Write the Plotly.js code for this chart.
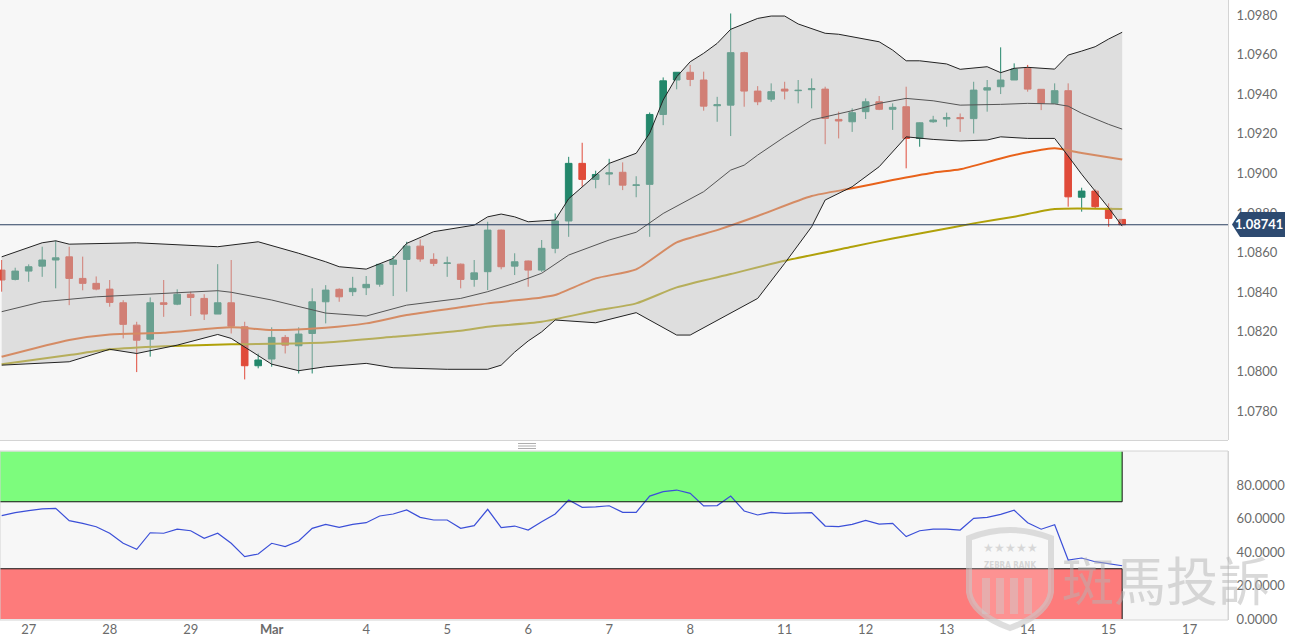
<!DOCTYPE html>
<html>
<head>
<meta charset="utf-8">
<script src="https://cdn.plot.ly/plotly-3.0.1.min.js"></script>
<style>
  html, body { margin: 0; padding: 0; background: #fff; }
  #chart { width: 1289px; height: 641px; }
</style>
</head>
<body>
<div id="chart"></div>
<script>
/* EUR/USD 4H: velas + Bollinger + 2 medias, panel RSI abajo */

const OPEN = [1.08512,1.08465,1.08507,1.08532,1.08563,1.08579,1.0847,1.08445,1.08416,1.08347,
  1.08234,1.08163,1.08347,1.0834,1.0839,1.08369,1.0829,1.08347,1.08226,1.08029,
  1.08063,1.08172,1.0813,1.08192,1.08352,1.08415,1.08403,1.08423,1.08441,1.08541,
  1.08566,1.08633,1.08566,1.08546,1.08542,1.08465,1.08504,1.08714,1.08532,1.08558,
  1.08512,1.08622,1.0876,1.09051,1.0897,1.08997,1.09006,1.0894,1.08945,1.09298,
  1.09472,1.09511,1.09472,1.09342,1.09345,1.0961,1.09416,1.09375,1.09426,1.09418,
  1.09423,1.09426,1.09273,1.09261,1.09312,1.09362,1.09324,1.09337,1.09177,1.09261,
  1.09275,1.09282,1.09277,1.09421,1.09438,1.09472,1.09531,1.09425,1.09354,1.09418,
  1.0888,1.08911,1.08824,1.08768];
const HIGH = [1.08563,1.08524,1.08541,1.0863,1.0866,1.0863,1.0858,1.0848,1.08462,1.0836,
  1.08251,1.08374,1.08462,1.08415,1.08403,1.0839,1.08542,1.08563,1.08251,1.08091,
  1.08223,1.08184,1.08223,1.0842,1.08436,1.0842,1.08478,1.08482,1.08541,1.08583,
  1.08655,1.08667,1.08597,1.0858,1.08545,1.08563,1.08756,1.08716,1.08597,1.0856,
  1.08664,1.08798,1.09084,1.09155,1.09014,1.09074,1.09056,1.08986,1.09308,1.09485,
  1.09511,1.09548,1.09514,1.09387,1.09808,1.09615,1.09441,1.09455,1.09463,1.09472,
  1.0948,1.09438,1.09312,1.09329,1.09379,1.09391,1.09354,1.09438,1.09258,1.09291,
  1.09307,1.09303,1.09463,1.09472,1.09637,1.09556,1.09548,1.09425,1.09455,1.09455,
  1.08928,1.0892,1.08849,1.08768];
const LOW = [1.08403,1.0846,1.08453,1.08478,1.0842,1.08335,1.0841,1.0841,1.08327,1.08167,
  1.07997,1.08075,1.08276,1.08335,1.0828,1.0826,1.0829,1.08192,1.0796,1.08016,
  1.08024,1.08091,1.0799,1.0799,1.08243,1.08352,1.08381,1.08386,1.08428,1.08381,
  1.08403,1.08554,1.08532,1.08478,1.0842,1.08428,1.08411,1.08516,1.08487,1.08428,
  1.08503,1.08597,1.0868,1.08933,1.08925,1.08941,1.08916,1.0888,1.0868,1.09244,
  1.09425,1.09441,1.09317,1.09261,1.09189,1.09337,1.09345,1.09362,1.09374,1.09354,
  1.09329,1.09148,1.09177,1.0921,1.09275,1.0932,1.0922,1.09026,1.09135,1.09256,
  1.09236,1.0921,1.09202,1.09312,1.09401,1.09472,1.09413,1.0932,1.09354,1.08832,
  1.08807,1.08825,1.08731,1.08741];
const CLOSE = [1.08462,1.08507,1.08529,1.08563,1.08574,1.0847,1.08445,1.08416,1.08349,1.08238,
  1.08158,1.08347,1.08339,1.0839,1.08374,1.0829,1.08347,1.08229,1.08029,1.08058,
  1.08172,1.08133,1.08189,1.08352,1.08411,1.08377,1.0842,1.0844,1.08541,1.08563,
  1.08633,1.08568,1.08546,1.08548,1.08465,1.08498,1.08714,1.08529,1.08554,1.08512,
  1.08622,1.0876,1.09051,1.0897,1.08995,1.09003,1.08941,1.08942,1.09298,1.09468,
  1.09511,1.09475,1.0934,1.09347,1.0961,1.09416,1.09362,1.09413,1.09416,1.0942,
  1.09428,1.09278,1.09265,1.09307,1.09362,1.09324,1.09334,1.09177,1.09256,1.0927,
  1.09282,1.09277,1.09421,1.09433,1.09472,1.09527,1.09426,1.09354,1.09418,1.08882,
  1.08911,1.08832,1.08773,1.08741];

const RSI = [61.7,63.5,64.7,65.7,66.1,58.7,57.1,55.1,51.2,45.2,
  41.6,51.5,51.2,53.6,52.7,48.2,51.2,45.2,37.2,38.8,
  45.2,43.2,46.6,54.1,56.5,54.7,56.5,57.5,61.5,62.7,
  65.1,60.7,59.1,59.1,54.1,55.7,65.5,54.5,55.5,53.1,
  58.1,62.7,71.0,66.7,67.0,67.6,63.7,63.7,73.4,76.0,
  77.0,75.0,67.5,67.7,73.4,64.5,62.1,63.7,63.1,63.5,
  63.5,55.5,55.1,56.5,58.9,56.7,57.1,49.2,52.7,53.6,
  53.7,53.1,60.1,60.7,62.5,64.9,57.5,53.6,56.3,35.2,
  36.4,34.2,32.8,31.8];

// Bollinger: banda superior / media / inferior (leidas a ojo, indice de vela)
const BB_UP_X = [0,3,4,5,10,16,19,22,24,25,27,29,30,32,35,36,37,38,39,40,41,42,44,45,47,48,49,50,51,52,53,54,56,57,58,59,61,62,65,66,67,68,70,71,73,74,75,76,78,79,80,81,82,83];
const BB_UP = [1.08579,1.0865,1.0866,1.08643,1.0865,1.0863,1.08655,1.08597,1.08554,1.08529,1.08517,1.08571,1.08647,1.08706,1.08739,1.08781,1.08795,1.08781,1.08756,1.08762,1.08765,1.08872,1.08992,1.09051,1.09102,1.09203,1.09371,1.09488,1.09564,1.09607,1.09657,1.09728,1.09783,1.09795,1.09795,1.09755,1.09708,1.09703,1.09665,1.09623,1.09569,1.09569,1.09553,1.09526,1.09539,1.09509,1.09531,1.09536,1.09527,1.09598,1.09618,1.0964,1.09679,1.09713];
const BB_MID_X = [0,3,7,12,16,17,20,24,27,30,34,36,38,40,42,45,47,49,52,54,55,56,58,60,63,65,67,69,71,74,76,78,79,80,81,82,83];
const BB_MID = [1.08302,1.08352,1.08377,1.08394,1.08408,1.084,1.08361,1.08295,1.0828,1.08335,1.08369,1.08403,1.08446,1.08496,1.08588,1.08664,1.08703,1.08798,1.08908,1.09017,1.09042,1.09093,1.09185,1.0927,1.09317,1.09354,1.09379,1.09367,1.09345,1.09349,1.09354,1.09351,1.0934,1.09304,1.09275,1.09248,1.09224];
const BB_LO_X = [0,5,8,10,13,16,17,19,20,22,24,27,29,33,36,37,38,39,40,41,44,47,50,51,54,56,58,60,61,63,65,67,69,71,73,74,76,78,79,80,81,82,83];
const BB_LO = [1.08032,1.08049,1.08112,1.08091,1.08133,1.08187,1.08167,1.08083,1.08037,1.08004,1.08024,1.08041,1.08019,1.08011,1.08011,1.08032,1.08098,1.08154,1.082,1.0826,1.08246,1.08297,1.08184,1.08184,1.08293,1.08369,1.08546,1.08731,1.08866,1.08933,1.09034,1.09185,1.09172,1.09164,1.09169,1.09185,1.09177,1.09177,1.09088,1.08996,1.08911,1.08826,1.08734];

// medias moviles (naranja rapida, oliva lenta)
const MA_FAST_X = [0,5,8,12,17,20,24,27,30,34,36,40,41,44,47,50,53,56,60,63,66,69,71,74,76,78,80,83];
const MA_FAST = [1.08074,1.08159,1.08187,1.08195,1.08223,1.08209,1.08221,1.08243,1.08285,1.08324,1.08344,1.08374,1.08386,1.0847,1.08516,1.08652,1.08714,1.08785,1.08886,1.08925,1.08967,1.09004,1.09021,1.09076,1.09107,1.09127,1.09103,1.09071];
const MA_SLOW_X = [0,5,8,12,17,24,29,34,36,40,44,47,50,54,58,63,66,69,72,75,78,83];
const MA_SLOW = [1.08037,1.08083,1.08112,1.08128,1.08137,1.08147,1.08175,1.08206,1.08226,1.08251,1.08307,1.08344,1.08425,1.08492,1.08559,1.0863,1.08672,1.08709,1.08748,1.08781,1.0882,1.0882];

const TICK_POS = [2,8,14,20,27,33,39,45,51,58,64,70,76,82,88];
const TICK_TEXT = ['27','28','29','<b>Mar</b>','4','5','6','7','8','11','12','13','14','15','17'];
const PRICE_TICKS = [1.078,1.080,1.082,1.084,1.086,1.088,1.090,1.092,1.094,1.096,1.098];
const RSI_TICKS = [0,20,40,60,80];
const RSI_HI = 70, RSI_LO = 30;

const UP = '#23876b', DN = '#e04b3a';
const IDX = CLOSE.map((_, i) => i);
const LAST = CLOSE[CLOSE.length - 1];
const LAST_I = IDX[IDX.length - 1];

// plot area is 1228 x 620 px; helpers for decoration placed in pixels
const PW = 1228, PH = 620;
const px = x => x / PW;
const py = y => 1 - y / PH;
const path = pts => pts.map((p, i) => (i ? 'L' : 'M') + px(p[0]).toFixed(5) + ',' + py(p[1]).toFixed(5)).join(' ') + ' Z';

const traces = [
  { type: 'candlestick', x: IDX, open: OPEN, high: HIGH, low: LOW, close: CLOSE,
    increasing: { line: { color: UP, width: 1 }, fillcolor: UP },
    decreasing: { line: { color: DN, width: 1 }, fillcolor: DN },
    whiskerwidth: 0, hoverinfo: 'skip', xaxis: 'x', yaxis: 'y' },
  { type: 'scatter', mode: 'lines', x: MA_FAST_X, y: MA_FAST, line: { color: '#e8621a', width: 2, shape: 'spline', smoothing: 0.6 }, hoverinfo: 'skip' },
  { type: 'scatter', mode: 'lines', x: MA_SLOW_X, y: MA_SLOW, line: { color: '#b0a10a', width: 2, shape: 'spline', smoothing: 0.6 }, hoverinfo: 'skip' },
  { type: 'scatter', mode: 'lines', x: BB_UP_X, y: BB_UP, line: { color: '#222', width: 1 }, hoverinfo: 'skip' },
  { type: 'scatter', mode: 'lines', x: BB_LO_X, y: BB_LO, line: { color: '#222', width: 1 },
    fill: 'tonexty', fillcolor: 'rgba(190,190,190,0.45)', hoverinfo: 'skip' },
  { type: 'scatter', mode: 'lines', x: BB_MID_X, y: BB_MID, line: { color: '#555', width: 1 }, hoverinfo: 'skip' },
  { type: 'scatter', mode: 'lines', x: IDX, y: RSI, xaxis: 'x', yaxis: 'y2', line: { color: '#3b4fd8', width: 1.2 }, hoverinfo: 'skip' }
];

const shapes = [
  // zonas RSI
  { type: 'rect', xref: 'x', x0: -1, x1: LAST_I, yref: 'y2', y0: RSI_HI, y1: 100, fillcolor: '#7dfc7d', line: { width: 0 }, layer: 'below' },
  { type: 'rect', xref: 'x', x0: -1, x1: LAST_I, yref: 'y2', y0: 0, y1: RSI_LO, fillcolor: '#fd7b7b', line: { width: 0 }, layer: 'below' },
  { type: 'line', xref: 'x', x0: -1, x1: LAST_I, yref: 'y2', y0: RSI_HI, y1: RSI_HI, line: { color: '#111', width: 1 } },
  { type: 'line', xref: 'x', x0: -1, x1: LAST_I, yref: 'y2', y0: RSI_LO, y1: RSI_LO, line: { color: '#111', width: 1 } },
  { type: 'line', xref: 'x', x0: LAST_I, x1: LAST_I, yref: 'y2', y0: RSI_HI, y1: 100, line: { color: '#111', width: 1 } },
  { type: 'line', xref: 'x', x0: LAST_I, x1: LAST_I, yref: 'y2', y0: 0, y1: RSI_LO, line: { color: '#111', width: 1 } },
  // bordes de paneles
  { type: 'line', xref: 'paper', x0: 0, x1: 1, yref: 'paper', y0: py(440.5), y1: py(440.5), line: { color: '#d4d4d4', width: 1 } },
  { type: 'rect', xref: 'paper', x0: 0, x1: 1, yref: 'paper', y0: 0, y1: py(451), line: { color: '#d4d4d4', width: 1 } },
  // asa del divisor
  { type: 'line', xref: 'paper', x0: px(518), x1: px(536), yref: 'paper', y0: py(443.5), y1: py(443.5), line: { color: '#9a9a9a', width: 0.8 } },
  { type: 'line', xref: 'paper', x0: px(518), x1: px(536), yref: 'paper', y0: py(446), y1: py(446), line: { color: '#9a9a9a', width: 0.8 } },
  { type: 'line', xref: 'paper', x0: px(518), x1: px(536), yref: 'paper', y0: py(448.5), y1: py(448.5), line: { color: '#9a9a9a', width: 0.8 } },
  // linea de precio actual y etiqueta
  { type: 'line', xref: 'paper', x0: 0, x1: 1, yref: 'y', y0: LAST, y1: LAST, line: { color: '#2a3f5f', width: 1 } },
  { type: 'path', xref: 'paper', yref: 'paper',
    path: path([[1232, 224.5], [1240, 212], [1285, 212], [1285, 237], [1240, 237]]),
    fillcolor: '#2d4a70', line: { width: 0 } },
  // marca de agua: escudo
  { type: 'path', xref: 'paper', yref: 'paper',
    path: 'M' + px(969) + ',' + py(538) + ' Q' + px(1010) + ',' + py(522) + ' ' + px(1051) + ',' + py(538) +
          ' L' + px(1051) + ',' + py(592) + ' Q' + px(1048) + ',' + py(614) + ' ' + px(1010) + ',' + py(628) +
          ' Q' + px(972) + ',' + py(614) + ' ' + px(969) + ',' + py(592) + ' Z',
    fillcolor: 'rgba(255,255,255,0.18)', line: { color: 'rgba(200,200,200,0.6)', width: 6 } }
];
[986, 1000, 1014, 1028].forEach(x => shapes.push({
  type: 'rect', xref: 'paper', yref: 'paper', x0: px(x - 4), x1: px(x + 4), y0: py(614), y1: py(578),
  fillcolor: 'rgba(205,205,205,0.45)', line: { width: 0 } }));

const annotations = [
  { xref: 'paper', yref: 'paper', x: px(1259), y: py(224.5), text: '<b>' + LAST.toFixed(5) + '</b>',
    showarrow: false, font: { color: '#fff', size: 13, family: 'Lato, sans-serif' }, xanchor: 'center', yanchor: 'middle' },
  { xref: 'paper', yref: 'paper', x: px(1166), y: py(578), text: '斑馬投訴', showarrow: false,
    font: { family: 'Noto Sans CJK TC, sans-serif', size: 52, color: 'rgba(180,180,180,0.5)' }, xanchor: 'center', yanchor: 'middle' },
  { xref: 'paper', yref: 'paper', x: px(1010), y: py(547), text: '★★★★★', showarrow: false,
    font: { size: 12, color: 'rgba(205,205,205,0.75)' }, xanchor: 'center', yanchor: 'middle' },
  { xref: 'paper', yref: 'paper', x: px(1010), y: py(565), text: '<b>ZEBRA RANK</b>', showarrow: false,
    font: { size: 8, color: 'rgba(205,205,205,0.8)', family: 'DejaVu Sans Condensed, sans-serif' }, xanchor: 'center', yanchor: 'middle' }
];

const axisTick = { size: 13, color: '#6b6b6b', family: 'Lato, sans-serif' };

const layout = {
  width: 1289, height: 641,
  margin: { l: 0, r: 61, t: 0, b: 21 },
  paper_bgcolor: '#ffffff', plot_bgcolor: '#f7f7f7',
  showlegend: false, hovermode: false,
  font: { family: 'Lato, sans-serif', size: 13, color: '#6b6b6b' },
  xaxis: { anchor: 'y2', range: [-0.126, 90.84], tickvals: TICK_POS, ticktext: TICK_TEXT,
    showgrid: false, zeroline: false, showline: false, ticks: '', tickfont: axisTick,
    rangeslider: { visible: false }, fixedrange: true },
  yaxis: { domain: [180 / PH, 1], range: [1.07654, 1.09876], side: 'right',
    tickvals: PRICE_TICKS, tickformat: '.4f', showgrid: false, zeroline: false,
    ticks: 'outside', ticklen: 5, tickcolor: 'rgba(0,0,0,0)', tickfont: axisTick,
    showline: true, linecolor: '#d4d4d4', fixedrange: true },
  yaxis2: { domain: [0, 169 / PH], range: [-0.6, 100.3], side: 'right', anchor: 'x',
    tickvals: RSI_TICKS, tickformat: '.4f', showgrid: false, zeroline: false,
    ticks: 'outside', ticklen: 5, tickcolor: 'rgba(0,0,0,0)', tickfont: axisTick,
    showline: true, linecolor: '#d4d4d4', fixedrange: true },
  shapes: shapes,
  annotations: annotations
};

Plotly.newPlot('chart', traces, layout, { staticPlot: true, displayModeBar: false });
</script>
</body>
</html>
